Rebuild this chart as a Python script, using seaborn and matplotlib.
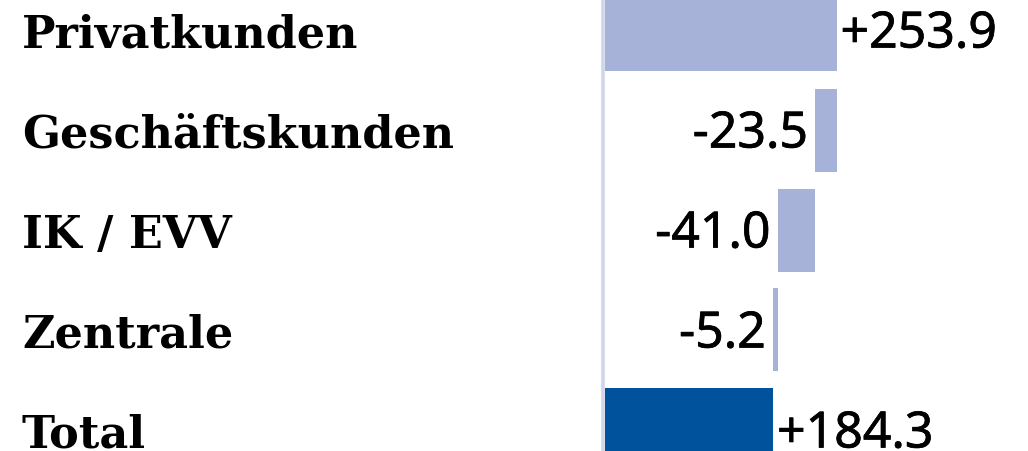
import numpy as np
import pandas as pd
import matplotlib
matplotlib.use("Agg")
import matplotlib.pyplot as plt
import matplotlib.transforms as mtransforms
import matplotlib.patheffects as pe
import seaborn as sns

# Daten (Wasserfall)
categories = ['Privatkunden', 'Geschäftskunden', 'IK / EVV', 'Zentrale', 'Total']
deltas = [253.9, -23.5, -41.0, -5.2, 184.3]
labels = ['+253.9', '-23.5', '-41.0', '-5.2', '+184.3']
is_total = [False, False, False, False, True]

# Startpunkte der schwebenden Balken
starts = []
run = 0.0
for d, t in zip(deltas, is_total):
    if t:
        starts.append(0.0)
    else:
        starts.append(run)
        run += d

df = pd.DataFrame({'cat': categories, 'delta': deltas, 'start': starts})

light = '#a7b2d8'
dark = '#00529c'
base_col = '#d0d6ea'

sns.set_theme(style='white')

W, H = 1028, 452
fig = plt.figure(figsize=(W / 100, H / 100), dpi=100)
x0 = 605
ax = fig.add_axes([x0 / W, 0, (W - x0) / W, 1])

sns.barplot(data=df, x='delta', y='cat', order=categories, orient='h',
            left=df['start'].values, width=0.83, color=light,
            saturation=1, ax=ax)
for p, t in zip(ax.patches, is_total):
    p.set_facecolor(dark if t else light)
    p.set_edgecolor('none')

px_per_unit = 231.5 / 253.9
ax.set_xlim(0, (W - x0) / px_per_unit)
ax.set_ylim(4.21, -0.31)
ax.axis('off')

# Basislinie
ax.axvline(-2.2, color=base_col, lw=2.6, clip_on=False, zorder=0)

# Werte-Beschriftungen (etwas kräftiger)
stroke = [pe.withStroke(linewidth=0.5, foreground='black')]
num_font = dict(fontsize=36, family='Noto Sans', color='black', path_effects=stroke)
for i, (s, d, lab) in enumerate(zip(starts, deltas, labels)):
    end = s + d
    if d >= 0:
        ax.annotate(lab, (end, i), xytext=(4, -17.5), textcoords='offset pixels',
                    ha='left', va='baseline', annotation_clip=False, **num_font)
    else:
        ax.annotate(lab, (end, i), xytext=(-7, -17.5), textcoords='offset pixels',
                    ha='right', va='baseline', annotation_clip=False, **num_font)

# Kategorien links
trans = mtransforms.blended_transform_factory(fig.transFigure, ax.transData)
for i, c in enumerate(categories):
    t = ax.text(22 / W, i, c, transform=trans, ha='left', va='baseline',
                fontsize=32, family='DejaVu Serif', fontweight='bold', color='black')
    t.set_transform(trans + mtransforms.ScaledTranslation(0, -17 / 100, fig.dpi_scale_trans))

fig.savefig('out.png', dpi=100)
